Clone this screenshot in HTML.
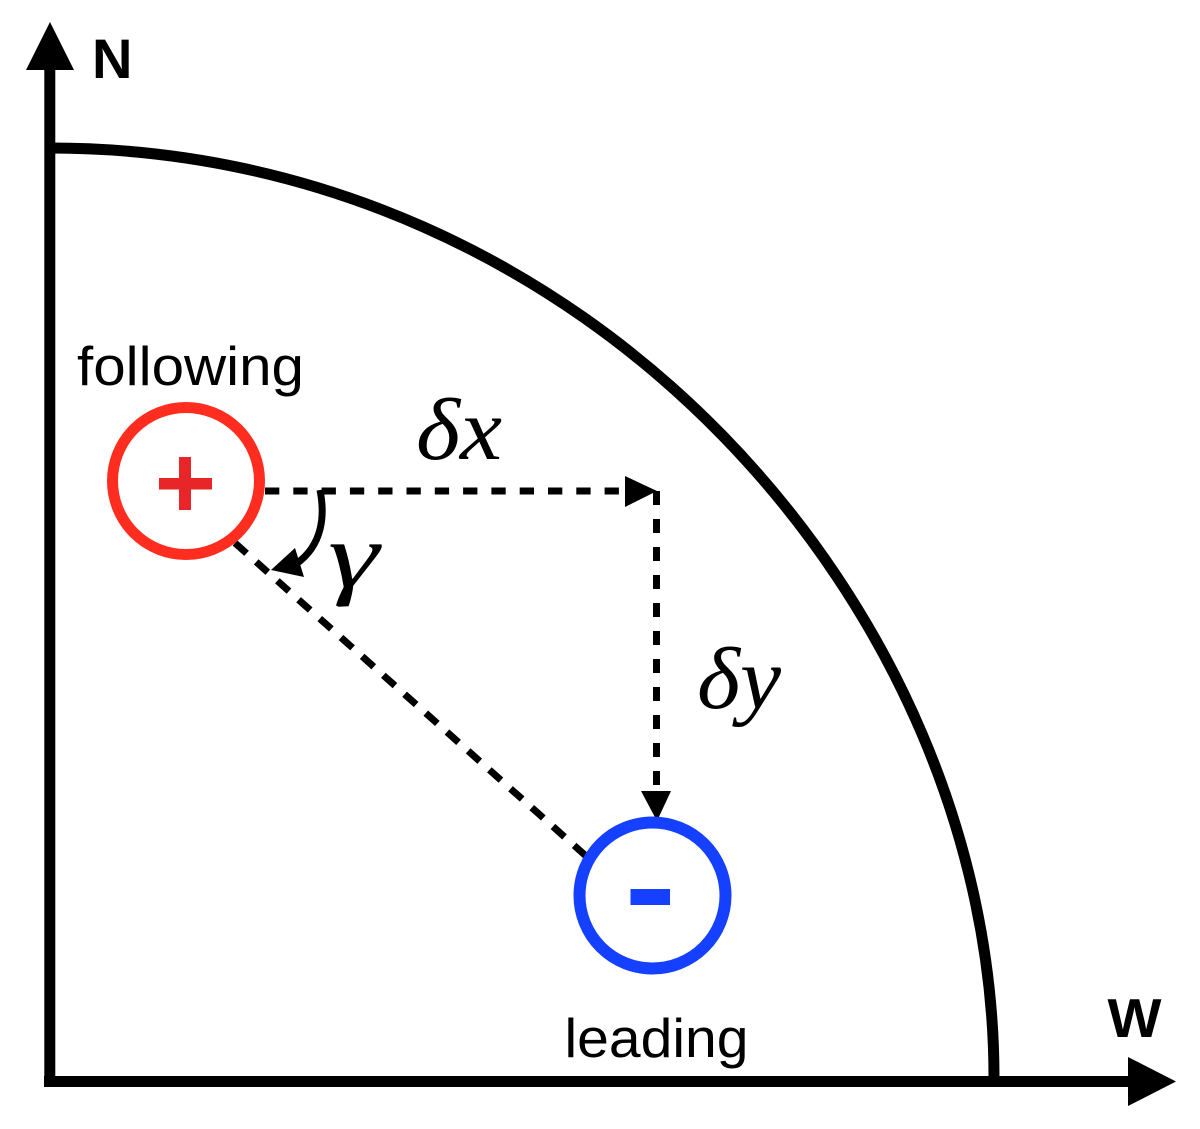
<!DOCTYPE html>
<html>
<head>
<meta charset="utf-8">
<style>
html,body{margin:0;padding:0;background:#fff;}
svg{display:block;}
</style>
</head>
<body>
<svg width="1200" height="1129" viewBox="0 0 1200 1129" xmlns="http://www.w3.org/2000/svg">
<rect width="1200" height="1129" fill="#fff"/>
<!-- axes -->
<line x1="49.8" y1="60" x2="49.8" y2="1087" stroke="#000" stroke-width="11"/>
<line x1="44" y1="1081.5" x2="1135" y2="1081.5" stroke="#000" stroke-width="11"/>
<polygon points="50,22 74,70 26,70" fill="#000"/>
<polygon points="1176,1081.5 1128,1057 1128,1106" fill="#000"/>
<!-- arc -->
<path d="M50,148 C 585,148 994,605 994,1078" fill="none" stroke="#000" stroke-width="11"/>
<!-- dashed -->
<line x1="265" y1="491" x2="620" y2="491" stroke="#000" stroke-width="7" stroke-dasharray="14.3 14"/>
<polygon points="657,491 625,476 625,507" fill="#000"/>
<line x1="656.5" y1="491" x2="656.5" y2="795" stroke="#000" stroke-width="7" stroke-dasharray="14 14"/>
<polygon points="657,821 641,791 671,791" fill="#000"/>
<line x1="235" y1="543" x2="586" y2="856" stroke="#000" stroke-width="7" stroke-dasharray="15.5 12.9"/>
<!-- gamma arc -->
<path d="M320,490 C 325,515 323,545 296,564" fill="none" stroke="#000" stroke-width="7"/>
<polygon points="271,570 295,548 304,577" fill="#000"/>
<!-- circles -->
<circle cx="186" cy="481" r="73.5" fill="#fff" stroke="#ff2d20" stroke-width="11"/>
<rect x="159" y="478" width="53" height="11.5" fill="#e8262a"/>
<rect x="179" y="457" width="12" height="53" fill="#e8262a"/>
<circle cx="652.5" cy="895.5" r="73" fill="#fff" stroke="#1540ff" stroke-width="12"/>
<rect x="630.5" y="889" width="39.5" height="16" fill="#1540ff"/>
<!-- labels -->
<text x="92" y="78" font-family="'Liberation Sans',sans-serif" font-weight="bold" font-size="56" fill="#000">N</text>
<text x="1107.5" y="1037" font-family="'Liberation Sans',sans-serif" font-weight="bold" font-size="55" textLength="54" lengthAdjust="spacingAndGlyphs" fill="#000">W</text>
<text x="77" y="385" font-family="'Liberation Sans',sans-serif" font-size="55" textLength="227" lengthAdjust="spacingAndGlyphs" fill="#000">following</text>
<text x="564.5" y="1057" font-family="'Liberation Sans',sans-serif" font-size="55" textLength="184" lengthAdjust="spacingAndGlyphs" fill="#000">leading</text>
<text x="416" y="459" font-family="'Liberation Serif',serif" font-style="italic" font-size="88" textLength="86" lengthAdjust="spacingAndGlyphs" fill="#000">δx</text>
<text x="697" y="708" font-family="'Liberation Serif',serif" font-style="italic" font-size="88" textLength="84" lengthAdjust="spacingAndGlyphs" fill="#000">δy</text>
<text transform="translate(328,587) scale(1.39,1)" font-family="'Liberation Serif',serif" font-style="italic" font-size="93" fill="#000">γ</text>
</svg>
</body>
</html>
